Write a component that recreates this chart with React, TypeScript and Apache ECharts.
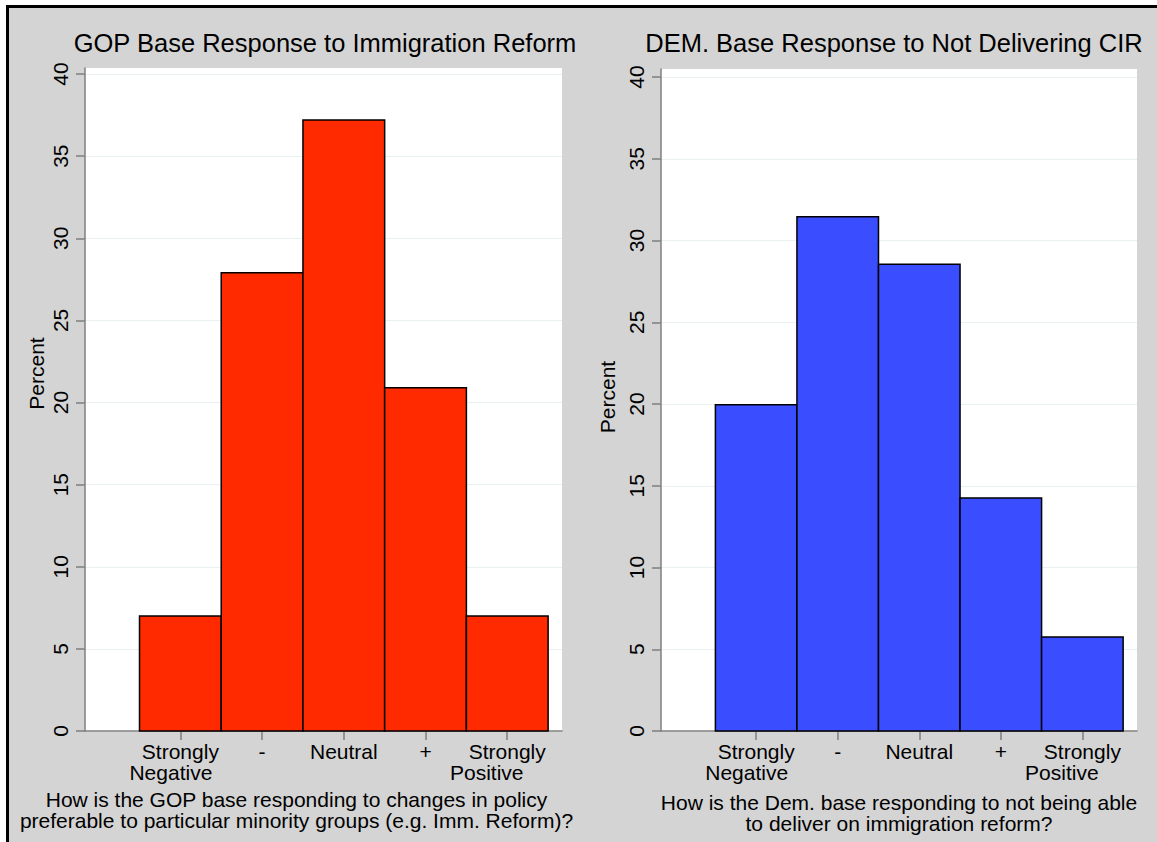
import React, { useEffect, useRef } from "react";
import * as echarts from "echarts";

const categories = ["Strongly\nNegative", "-", "Neutral", "+", "Strongly\nPositive"];
const categoryPositions = [1, 2, 3, 4, 5];
const gopValues = [7.0, 27.9, 37.2, 20.9, 7.0];
const demValues = [19.95, 31.45, 28.55, 14.25, 5.75];
const yTicks = [0, 5, 10, 15, 20, 25, 30, 35, 40];
const titles = ["GOP Base Response to Immigration Reform", "DEM. Base Response to Not Delivering CIR"];
const xNames = [
  "How is the GOP base responding to changes in policy\npreferable to particular minority groups (e.g. Imm. Reform)?",
  "How is the Dem. base responding to not being able\nto deliver on immigration reform?",
];
const yName = "Percent";

const FONT = "'Liberation Sans', Arial, Helvetica, sans-serif";
const FS = 21;

export default function App() {
  const ref = useRef<HTMLDivElement>(null);
  useEffect(() => {
    const chart = echarts.init(ref.current!, null, { renderer: "svg" });

    const labelFormatter = (v: number) => {
      const idx = categoryPositions.indexOf(Math.round(v));
      if (idx < 0) return "";
      const parts = categories[idx].split("\n");
      if (parts.length === 1) return `{a|${parts[0]}}`;
      const style = idx === 0 ? "n" : "p";
      return `{a|${parts[0]}}\n{${style}|${parts[1]}}`;
    };
    const rich = {
      a: { fontSize: FS, fontFamily: FONT, color: "#000", lineHeight: 21 },
      n: { fontSize: FS, fontFamily: FONT, color: "#000", lineHeight: 21, padding: [0, 19, 0, 0] },
      p: { fontSize: FS, fontFamily: FONT, color: "#000", lineHeight: 21, padding: [0, 41, 0, 0] },
    };

    const axisGray = "#7f7f7f";
    const mkX = (i: number, namePad: number[], nameGap: number) => ({
      type: "value",
      gridIndex: i,
      min: -0.167,
      max: 5.67,
      name: xNames[i],
      nameLocation: "middle",
      nameGap,
      nameTextStyle: { fontSize: FS, fontFamily: FONT, color: "#000", lineHeight: 21, padding: namePad },
      axisLine: { show: true, onZero: false, lineStyle: { color: axisGray, width: 1.5 } },
      axisTick: { show: true, length: 9, customValues: categoryPositions, lineStyle: { color: axisGray, width: 1.5 } },
      axisLabel: { customValues: categoryPositions, formatter: labelFormatter, margin: 10, rich },
      splitLine: { show: false },
    });
    const mkY = (i: number, max: number, nameGap: number, namePad: number[]) => ({
      type: "value",
      gridIndex: i,
      min: 0,
      max,
      name: yName,
      nameLocation: "middle",
      nameGap,
      nameRotate: 90,
      nameTextStyle: { fontSize: FS, fontFamily: FONT, color: "#000", padding: namePad },
      axisLine: { show: true, onZero: false, lineStyle: { color: axisGray, width: 1.5 } },
      axisTick: { show: true, length: 9, customValues: yTicks, lineStyle: { color: axisGray, width: 1.5 } },
      axisLabel: { customValues: yTicks, rotate: 90, margin: 14, fontSize: FS, fontFamily: FONT, color: "#000" },
      splitLine: { show: true, lineStyle: { color: "#e8f0f1", width: 1 } },
    });

    const mkSeries = (i: number, vals: number[], color: string) => ({
      type: "custom",
      xAxisIndex: i,
      yAxisIndex: i,
      data: categoryPositions.map((c, k) => [c, vals[k]]),
      renderItem: (_p: any, api: any) => {
        const x = api.value(0);
        const y = api.value(1);
        const p0 = api.coord([x - 0.5, y]);
        const p1 = api.coord([x + 0.5, 0]);
        return {
          type: "rect",
          shape: { x: p0[0], y: p0[1], width: p1[0] - p0[0], height: p1[1] - p0[1] },
          style: { fill: color, stroke: "#000", lineWidth: 1.5 },
        };
      },
      z: 3,
    });

    chart.setOption({
      animation: false,
      backgroundColor: "#ffffff",
      graphic: [
        {
          type: "rect",
          shape: { x: 7.5, y: 6.5, width: 1300, height: 1000 },
          style: { fill: "#d4d4d4", stroke: "#000", lineWidth: 3 },
          z: -10,
          silent: true,
        },
        {
          type: "text",
          x: 325,
          y: 43,
          style: { text: titles[0], fontSize: 25.5, fontFamily: FONT, fill: "#000", align: "center", verticalAlign: "middle" },
        },
        {
          type: "text",
          x: 894,
          y: 43,
          style: { text: titles[1], fontSize: 25.5, fontFamily: FONT, fill: "#000", align: "center", verticalAlign: "middle" },
        },
      ],
      grid: [
        { left: 85, top: 68, width: 477, height: 663, show: true, backgroundColor: "#fff", borderWidth: 0 },
        { left: 661, top: 69, width: 476, height: 662, show: true, backgroundColor: "#fff", borderWidth: 0 },
      ],
      xAxis: [mkX(0, [0, 54, 0, 0], 58), mkX(1, [0, 0, 0, 0], 61)],
      yAxis: [mkY(0, 40.37, 38, [0, 0, 0, 52]), mkY(1, 40.49, 43, [0, 0, 0, 6])],
      series: [mkSeries(0, gopValues, "#ff2a00"), mkSeries(1, demValues, "#3a4eff")],
    });
    return () => chart.dispose();
  }, []);
  return (
    <div style={{ position: "fixed", left: 0, top: 0, width: 1157, height: 842, background: "#fff" }}>
      <div ref={ref} style={{ width: 1157, height: 842 }} />
    </div>
  );
}
